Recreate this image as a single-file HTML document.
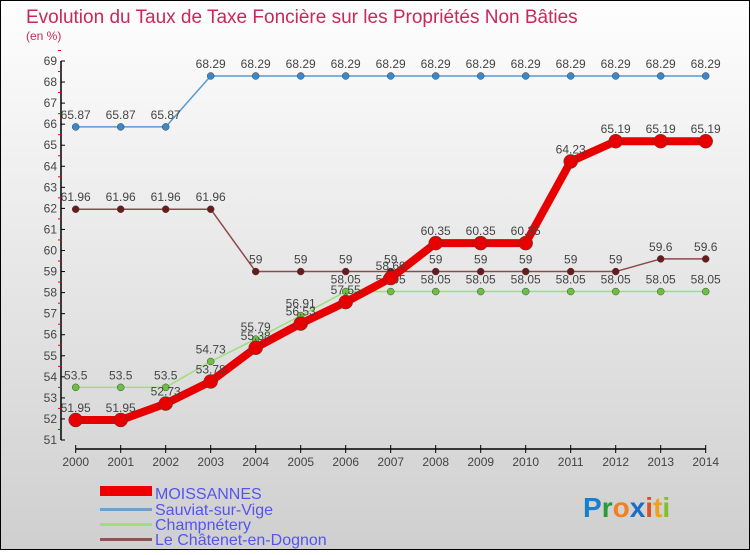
<!DOCTYPE html>
<html><head><meta charset="utf-8"><style>
body{margin:0;}
#c{width:750px;height:550px;position:relative;font-family:"Liberation Sans",sans-serif;}
</style></head><body>
<div id="c">
<svg id="s" width="750" height="550" xmlns="http://www.w3.org/2000/svg">
<defs><linearGradient id="bg" x1="0" y1="0" x2="0" y2="1"><stop offset="0" stop-color="#fefefe"/><stop offset="1" stop-color="#cfcfcf"/></linearGradient></defs>
<rect x="0.5" y="0.5" width="749" height="549" fill="url(#bg)" stroke="#000"/>
<text x="26" y="23" font-size="19" fill="#c8285a">Evolution du Taux de Taxe Foncière sur les Propriétés Non Bâties</text>
<text x="26" y="40" font-size="12" fill="#c8285a">(en %)</text>
<g id="axes"></g><g id="series"></g>
<g>
<rect x="100" y="486" width="52" height="10" fill="#e00"/>
<text x="155" y="499" font-size="16" fill="#5555ee">MOISSANNES</text>
<rect x="100" y="508" width="52" height="3" fill="#6fa0c8"/>
<text x="155" y="515" font-size="16" fill="#5555ee">Sauviat-sur-Vige</text>
<rect x="100" y="523" width="52" height="3" fill="#9be07a"/>
<text x="155" y="530" font-size="16" fill="#5555ee">Champnétery</text>
<rect x="100" y="538" width="52" height="3" fill="#8a5555"/>
<text x="155" y="545" font-size="16" fill="#5555ee">Le Châtenet-en-Dognon</text>
</g>
<g font-size="28" font-weight="bold">
<text x="583" y="517"><tspan fill="#1a7ec8">P</tspan><tspan fill="#2a9a3a">r</tspan><tspan fill="#f08020">o</tspan><tspan fill="#1a6ec8">x</tspan><tspan fill="#e05020">i</tspan><tspan fill="#f0a020">t</tspan><tspan fill="#80c030">i</tspan></text>
</g>
</svg>
</div>
<script>
const years=[2000,2001,2002,2003,2004,2005,2006,2007,2008,2009,2010,2011,2012,2013,2014];
const moissannes=[51.95,51.95,52.73,53.78,55.38,56.53,57.55,58.69,60.35,60.35,60.35,64.23,65.19,65.19,65.19];
const sauviat=[65.87,65.87,65.87,68.29,68.29,68.29,68.29,68.29,68.29,68.29,68.29,68.29,68.29,68.29,68.29];
const champnetery=[53.5,53.5,53.5,54.73,55.79,56.91,58.05,58.05,58.05,58.05,58.05,58.05,58.05,58.05,58.05];
const chatenet=[61.96,61.96,61.96,61.96,59,59,59,59,59,59,59,59,59,59.6,59.6];
const yTicks=[51,52,53,54,55,56,57,58,59,60,61,62,63,64,65,66,67,68,69];
const NS="http://www.w3.org/2000/svg";
function X(i){return 75.7+(705.7-75.7)*i/(years.length-1);}
function Y(v){return 440-(v-51)*(440-61)/18;}
function mk(t,a,p){const e=document.createElementNS(NS,t);for(const k in a)e.setAttribute(k,a[k]);p.appendChild(e);return e;}
const ax=document.getElementById('axes');
let yl=mk('line',{x1:61,y1:61,x2:61,y2:440,stroke:'#000','stroke-width':1.5},ax);


yTicks.forEach(v=>{
 mk('line',{x1:61,y1:Y(v),x2:65,y2:Y(v),stroke:'#000'},ax);
 mk('line',{x1:58,y1:Y(v+0.5),x2:61,y2:Y(v+0.5),stroke:'#e00'},ax);
 const t=mk('text',{x:57,y:Y(v)+4,'font-size':12,fill:'#444','text-anchor':'end'},ax);
 t.textContent=v;
 
 
});
let xl=mk('line',{x1:75.7,y1:449,x2:705.7,y2:449,stroke:'#000','stroke-width':1.5},ax);


years.forEach((y,i)=>{
 mk('line',{x1:X(i),y1:445,x2:X(i),y2:453,stroke:'#000'},ax);
 const t=mk('text',{x:X(i),y:466,'font-size':12,fill:'#444','text-anchor':'middle'},ax);
 t.textContent=y;
 
 
});
const sg=document.getElementById('series');
function draw(data,name,color,w,r,dot){
 const g=mk('g',{},sg);
 
 
 const pl=mk('polyline',{points:data.map((v,i)=>X(i)+','+Y(v)).join(' '),fill:'none',stroke:color,'stroke-width':w,'stroke-linejoin':'round'},g);
 
 
 data.forEach((v,i)=>{
  const c=mk('circle',{cx:X(i),cy:Y(v),r:r,fill:dot,stroke:'#444','stroke-width':0.5},g);
  
  
  const t=mk('text',{x:X(i),y:Y(v)-8,'font-size':12,fill:'#444','text-anchor':'middle'},g);
  t.textContent=v;
  
  
 });
}
draw(sauviat,'sauviat','#5a9ad0',1.5,3.5,'#3a88c8');
draw(champnetery,'champnetery','#9be07a',1.5,3.5,'#6cc040');
draw(chatenet,'chatenet','#8a4a4a',1.5,3.5,'#6a1a1a');
draw(moissannes,'moissannes','#e80000',8,7,'#e80000');
</script>
</body></html>
